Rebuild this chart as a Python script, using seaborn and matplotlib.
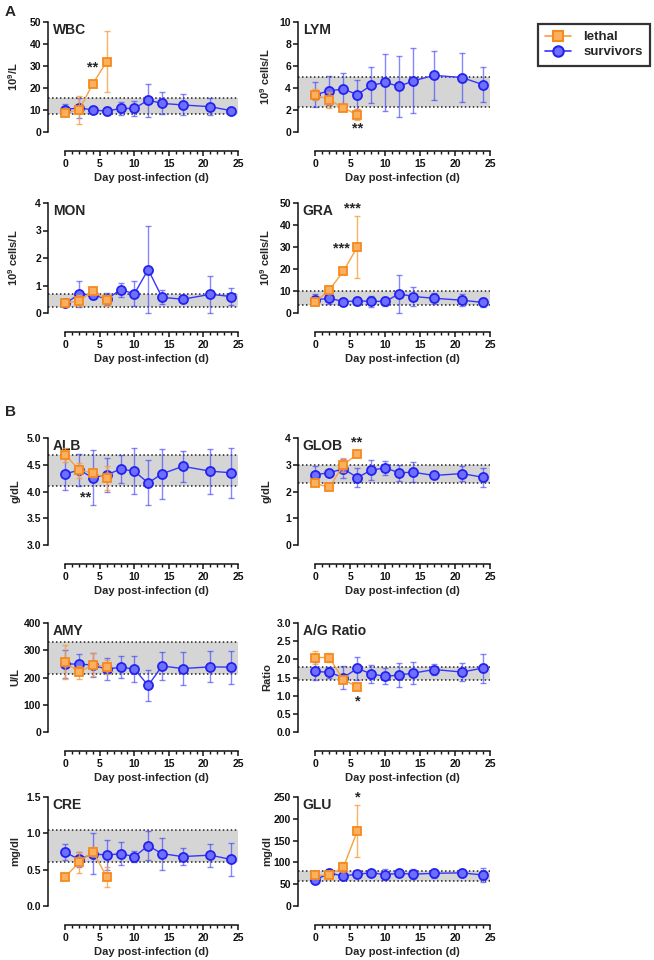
import matplotlib
matplotlib.use('Agg')
import matplotlib.pyplot as plt
from matplotlib.ticker import MultipleLocator, FormatStrFormatter
from matplotlib.lines import Line2D
import pandas as pd
import seaborn as sns

# sampling days
days_surv = [0, 2, 4, 6, 8, 10, 12, 14, 17, 21, 24]
days_leth = [0, 2, 4, 6]

# --- A: haematology ---
wbc_surv = [10.2, 11, 10, 9.5, 10.7, 10.7, 14.5, 13, 12.3, 11.5, 9.7]
wbc_surv_sd = [2.3, 4.5, 0.8, 2, 3, 3.5, 7.5, 5, 4.8, 4, 0.5]
wbc_leth = [8.8, 10, 22, 32]
wbc_leth_sd = [1, 6.3, 0.5, 14]
wbc_ref = [8.3, 15.5]

lym_surv = [3.4, 3.75, 3.9, 3.4, 4.25, 4.5, 4.15, 4.65, 5.15, 4.95, 4.3]
lym_surv_sd = [1.1, 1.3, 1.45, 1.35, 1.65, 2.6, 2.75, 2.95, 2.2, 2.2, 1.6]
lym_leth = [3.4, 2.9, 2.2, 1.55]
lym_leth_sd = [0.5, 0.7, 0.1, 0.5]
lym_ref = [2.25, 5.0]

mon_surv = [0.35, 0.68, 0.67, 0.5, 0.85, 0.7, 1.58, 0.57, 0.5, 0.68, 0.6]
mon_surv_sd = [0.05, 0.47, 0.15, 0.22, 0.25, 0.45, 1.58, 0.26, 0.1, 0.68, 0.3]
mon_leth = [0.36, 0.44, 0.8, 0.47]
mon_leth_sd = [0.05, 0.2, 0.05, 0.2]
mon_ref = [0.23, 0.7]

gra_surv = [6, 6.7, 5.2, 5.5, 5.3, 5.3, 8.7, 7.5, 6.7, 5.8, 4.8]
gra_surv_sd = [2.5, 2.8, 0.8, 2, 2.5, 2, 8.7, 4.5, 2.6, 2.7, 2.2]
gra_leth = [5, 10.5, 19, 30]
gra_leth_sd = [1, 1, 0.5, 14.2]
gra_ref = [3.5, 10.2]

# --- B: biochemistry ---
alb_surv = [4.33, 4.4, 4.26, 4.31, 4.42, 4.38, 4.16, 4.33, 4.47, 4.38, 4.35]
alb_surv_sd = [0.3, 0.3, 0.51, 0.32, 0.27, 0.43, 0.42, 0.47, 0.29, 0.42, 0.47]
alb_leth = [4.69, 4.4, 4.35, 4.25]
alb_leth_sd = [0.13, 0.14, 0.07, 0.22]
alb_ref = [4.1, 4.68]

glob_surv = [2.63, 2.7, 2.85, 2.52, 2.8, 2.88, 2.7, 2.72, 2.6, 2.67, 2.53]
glob_surv_sd = [0.33, 0.1, 0.35, 0.36, 0.36, 0.25, 0.3, 0.37, 0.05, 0.29, 0.35]
glob_leth = [2.3, 2.15, 3.0, 3.4]
glob_leth_sd = [0.1, 0.03, 0.27, 0.05]
glob_ref = [2.3, 3.0]

amy_surv = [250, 249, 246, 230, 238, 231, 171, 242, 233, 239, 238]
amy_surv_sd = [50, 39, 43, 40, 40, 47, 58, 53, 60, 57, 61]
amy_leth = [257, 219, 247, 240]
amy_leth_sd = [63, 24, 42, 26]
amy_ref = [213, 332]

ag_surv = [1.67, 1.64, 1.5, 1.75, 1.6, 1.53, 1.57, 1.62, 1.72, 1.65, 1.76]
ag_surv_sd = [0.25, 0.14, 0.32, 0.32, 0.24, 0.22, 0.32, 0.3, 0.16, 0.26, 0.4]
ag_leth = [2.05, 2.05, 1.43, 1.25]
ag_leth_sd = [0.19, 0.12, 0.07, 0.05]
ag_ref = [1.44, 1.78]

cre_surv = [0.74, 0.64, 0.72, 0.7, 0.72, 0.68, 0.83, 0.72, 0.68, 0.7, 0.64]
cre_surv_sd = [0.11, 0.1, 0.28, 0.21, 0.16, 0.08, 0.2, 0.22, 0.12, 0.16, 0.23]
cre_leth = [0.4, 0.6, 0.75, 0.4]
cre_leth_sd = [0, 0.14, 0.06, 0.14]
cre_ref = [0.6, 1.05]

glu_surv = [60, 75, 69, 73, 76, 72, 75, 73, 75, 76, 71]
glu_surv_sd = [3, 3, 3, 3, 7, 13, 6, 12, 10, 10, 16]
glu_leth = [70, 71, 89, 172]
glu_leth_sd = [3, 3, 12, 59]
glu_ref = [57, 80]

# significance marks: (day, y, text)
wbc_stars = [(4, 29.5, '**')]
lym_stars = [(6, 0.35, '**')]
gra_stars = [(3.7, 29.5, '***'), (5.3, 47.5, '***')]
alb_stars = [(2.9, 3.88, '**')]
glob_stars = [(5.9, 3.85, '**')]
ag_stars = [(6, 0.83, '*')]
glu_stars = [(6, 248, '*')]

sns.set_style('ticks')
plt.rcParams['font.family'] = ['Liberation Sans', 'DejaVu Sans']
plt.rcParams['font.weight'] = 'bold'
plt.rcParams['mathtext.fontset'] = 'custom'
plt.rcParams['mathtext.rm'] = 'Liberation Sans:bold'
plt.rcParams['mathtext.default'] = 'rm'

ORANGE_EDGE = '#F58A1F'
ORANGE_FACE = '#FBB060'
ORANGE_LINE = '#F7A040'
BLUE_EDGE = '#2323F0'
BLUE_FACE = '#6F6FFF'
BLUE_LINE = '#3535FF'

W, H = 654, 960
GAP = 19  # px between y=0 of the data and the detached x axis
fig = plt.figure(figsize=(W / 100, H / 100), dpi=100)

cols = [(48, 238), (298, 490)]
rows = [(22, 132), (203, 313), (438, 545), (623, 732), (797, 906)]

panels = [
    ('WBC', '10$^9$/L', (0, 50), 10, '%d', wbc_surv, wbc_surv_sd, wbc_leth, wbc_leth_sd, wbc_ref, wbc_stars, 0, 0),
    ('LYM', '10$^9$ cells/L', (0, 10), 2, '%d', lym_surv, lym_surv_sd, lym_leth, lym_leth_sd, lym_ref, lym_stars, 0, 1),
    ('MON', '10$^9$ cells/L', (0, 4), 1, '%d', mon_surv, mon_surv_sd, mon_leth, mon_leth_sd, mon_ref, [], 1, 0),
    ('GRA', '10$^9$ cells/L', (0, 50), 10, '%d', gra_surv, gra_surv_sd, gra_leth, gra_leth_sd, gra_ref, gra_stars, 1, 1),
    ('ALB', 'g/dL', (3, 5), 0.5, '%.1f', alb_surv, alb_surv_sd, alb_leth, alb_leth_sd, alb_ref, alb_stars, 2, 0),
    ('GLOB', 'g/dL', (0, 4), 1, '%d', glob_surv, glob_surv_sd, glob_leth, glob_leth_sd, glob_ref, glob_stars, 2, 1),
    ('AMY', 'U/L', (0, 400), 100, '%d', amy_surv, amy_surv_sd, amy_leth, amy_leth_sd, amy_ref, [], 3, 0),
    ('A/G Ratio', 'Ratio', (0, 3), 0.5, '%.1f', ag_surv, ag_surv_sd, ag_leth, ag_leth_sd, ag_ref, ag_stars, 3, 1),
    ('CRE', 'mg/dl', (0, 1.5), 0.5, '%.1f', cre_surv, cre_surv_sd, cre_leth, cre_leth_sd, cre_ref, [], 4, 0),
    ('GLU', 'mg/dl', (0, 250), 50, '%d', glu_surv, glu_surv_sd, glu_leth, glu_leth_sd, glu_ref, glu_stars, 4, 1),
]

for (title, ylab, ylim, ystep, yfmt, s_val, s_sd, l_val, l_sd, ref, stars, r, c) in panels:
    left, right = cols[c]
    top, bottom = rows[r]
    h = bottom - top
    ax = fig.add_axes([left / W, 1 - (bottom + GAP) / H, (right - left) / W, (h + GAP) / H])
    ax.patch.set_alpha(0)
    ylo = ylim[0] - (ylim[1] - ylim[0]) * GAP / h

    # reference range band
    ax.axhspan(ref[0], ref[1], color='#d5d5d5', lw=0, zorder=0)
    for v in ref:
        ax.axhline(v, color='#222222', lw=1.1, ls=(0, (1, 1.6)), zorder=1)

    surv = pd.DataFrame({'day': days_surv, 'val': s_val, 'sd': s_sd})
    leth = pd.DataFrame({'day': days_leth, 'val': l_val, 'sd': l_sd})

    ax.errorbar(surv['day'], surv['val'], yerr=surv['sd'], fmt='none', ecolor=BLUE_LINE,
                elinewidth=1, capsize=2.5, capthick=1, alpha=0.6, zorder=2)
    sns.lineplot(data=surv, x='day', y='val', ax=ax, color=BLUE_LINE, lw=1, marker='o',
                 markersize=6.5, markerfacecolor=BLUE_FACE, markeredgecolor=BLUE_EDGE,
                 markeredgewidth=1.3, legend=False, zorder=3)
    ax.errorbar(leth['day'], leth['val'], yerr=leth['sd'], fmt='none', ecolor=ORANGE_LINE,
                elinewidth=1, capsize=2.5, capthick=1, alpha=0.8, zorder=4)
    sns.lineplot(data=leth, x='day', y='val', ax=ax, color=ORANGE_LINE, lw=1, marker='s',
                 markersize=6, markerfacecolor=ORANGE_FACE, markeredgecolor=ORANGE_EDGE,
                 markeredgewidth=1.3, legend=False, zorder=5)

    for sx, sy, st in stars:
        ax.text(sx, sy, st, ha='center', va='center', fontsize=10.5, fontweight='bold')

    ax.set_xlim(-2.5, 25)
    ax.set_ylim(ylo, ylim[1])
    ax.yaxis.set_major_locator(MultipleLocator(ystep))
    ax.yaxis.set_major_formatter(FormatStrFormatter(yfmt))

    for side in ['top', 'right']:
        ax.spines[side].set_visible(False)
    ax.spines['left'].set_bounds(*ylim)
    ax.spines['bottom'].set_bounds(0, 25)
    for side in ['left', 'bottom']:
        ax.spines[side].set_linewidth(1.1)
        ax.spines[side].set_color('#111111')
    ax.tick_params(axis='both', which='major', length=3.5, width=1.1, labelsize=7.5,
                   pad=1.5, color='#111111', labelcolor='#111111')
    ax.tick_params(axis='x', which='minor', length=2, width=1.0, color='#111111')
    ax.tick_params(axis='x', which='major', pad=2)
    ax.set_xticks([t for t in range(0, 26, 5)])
    ax.set_xticks([t for t in range(0, 26) if t % 5], minor=True)
    ax.set_yticks([t for t in ax.get_yticks() if ylim[0] - 1e-9 <= t <= ylim[1] + 1e-9])
    for lab in ax.get_xticklabels() + ax.get_yticklabels():
        lab.set_fontweight('bold')

    ax.set_xlabel('Day post-infection (d)', fontsize=8, fontweight='bold')
    ax.xaxis.set_label_coords(15 / 27.5, -(41 - GAP) / (h + GAP))
    ax.set_ylabel(ylab, fontsize=8, fontweight='bold')
    ax.yaxis.set_label_coords(-(left - (20 if c == 0 else 272)) / (right - left), (GAP + h / 2) / (h + GAP))
    ax.text(0.025, 0.99, title, transform=ax.transAxes, ha='left', va='top',
            fontsize=10, fontweight='bold')

fig.text(10 / W, 1 - 12 / H, 'A', fontsize=11, fontweight='bold', ha='center', va='center')
fig.text(10 / W, 1 - 412 / H, 'B', fontsize=11, fontweight='bold', ha='center', va='center')

handles = [
    Line2D([], [], color=ORANGE_LINE, lw=1.2, marker='s', markersize=7,
           markerfacecolor=ORANGE_FACE, markeredgecolor=ORANGE_EDGE, markeredgewidth=1.5),
    Line2D([], [], color=BLUE_LINE, lw=1.2, marker='o', markersize=7.5,
           markerfacecolor=BLUE_FACE, markeredgecolor=BLUE_EDGE, markeredgewidth=1.5),
]
leg = fig.legend(handles, ['lethal', 'survivors'], loc='upper right',
                 bbox_to_anchor=(650 / W, 1 - 24 / H), frameon=True, fancybox=False,
                 edgecolor='black', prop={'weight': 'bold', 'size': 9.5},
                 handlelength=2.0, handletextpad=0.9, borderpad=0.55, labelspacing=0.2,
                 borderaxespad=0)
leg.get_frame().set_linewidth(1.6)

fig.savefig('out.png', dpi=100)
